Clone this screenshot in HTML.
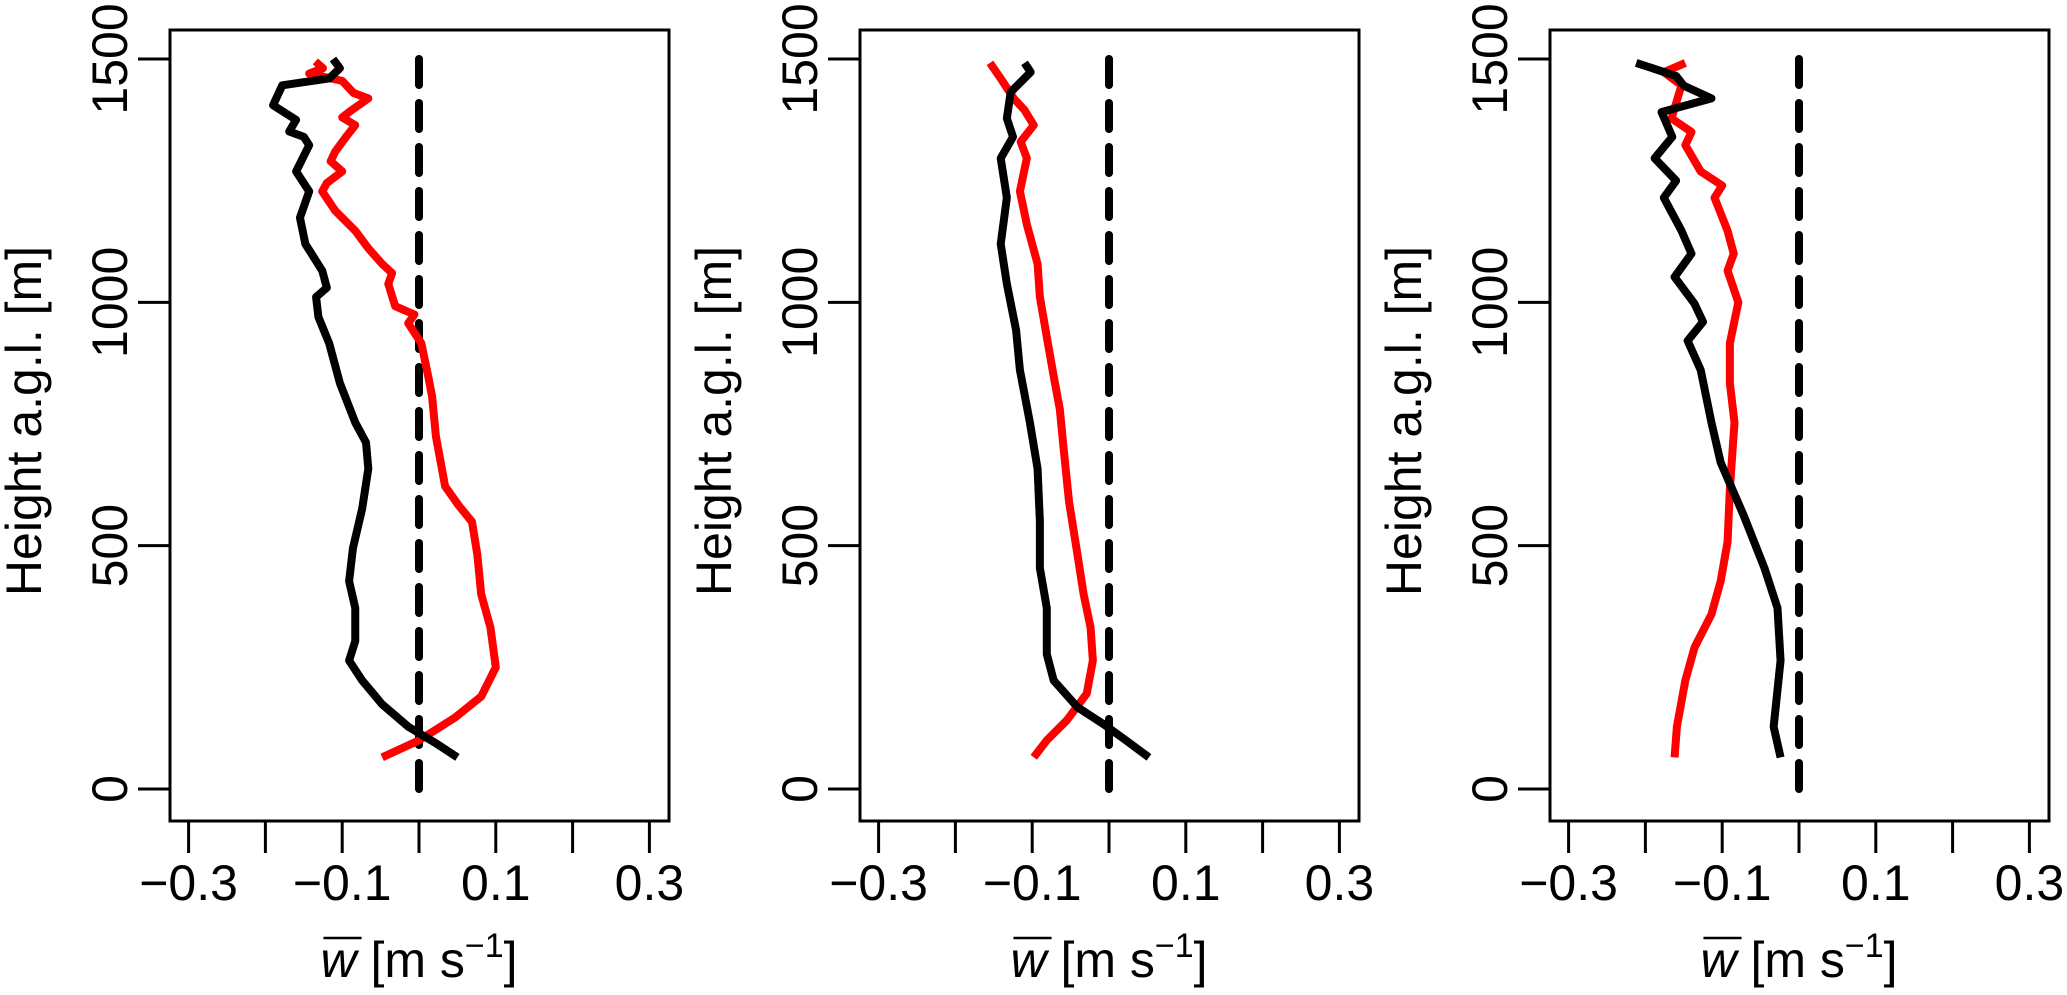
<!DOCTYPE html>
<html><head><meta charset="utf-8"><style>
body{margin:0;background:#fff}
svg text{font-family:"Liberation Sans",Arial,sans-serif;fill:#000}
</style></head><body>
<svg id="chart" width="2067" height="990" xmlns="http://www.w3.org/2000/svg"></svg>
<script>
const xTicks=[-0.3,-0.2,-0.1,0,0.1,0.2,0.3];
const xTickLabels=["\u22120.3","","\u22120.1","","0.1","","0.3"];
const yTicks=[0,500,1000,1500];
const p1RedW=[-0.048,0,0.047,0.081,0.1,0.093,0.081,0.076,0.069,0.052,0.034,0.022,0.017,0.012,0.003,-0.014,-0.006,-0.031,-0.040,-0.035,-0.048,-0.066,-0.083,-0.109,-0.126,-0.120,-0.100,-0.115,-0.109,-0.095,-0.083,-0.100,-0.091,-0.066,-0.085,-0.100,-0.143,-0.125,-0.135];
const p1RedH=[65,100,147,190,250,332,400,481,549,582,622,725,807,848,916,957,975,992,1038,1060,1079,1111,1147,1188,1228,1245,1269,1290,1310,1340,1364,1380,1391,1419,1430,1455,1470,1481,1495];
const p1BlkW=[0.05,0.021,-0.014,-0.048,-0.074,-0.091,-0.083,-0.083,-0.091,-0.086,-0.074,-0.066,-0.069,-0.083,-0.103,-0.117,-0.131,-0.134,-0.120,-0.126,-0.148,-0.155,-0.143,-0.160,-0.143,-0.150,-0.169,-0.160,-0.190,-0.178,-0.117,-0.103,-0.112];
const p1BlkH=[65,95,128,174,223,264,304,372,427,495,576,658,712,753,834,916,970,1011,1030,1065,1120,1174,1228,1269,1323,1340,1351,1375,1405,1446,1460,1481,1500];
const p2RedW=[-0.098,-0.081,-0.055,-0.029,-0.021,-0.024,-0.033,-0.041,-0.052,-0.059,-0.064,-0.072,-0.081,-0.090,-0.093,-0.107,-0.116,-0.107,-0.115,-0.098,-0.110,-0.124,-0.141,-0.155];
const p2RedH=[65,100,141,196,264,332,400,481,590,698,780,848,929,1011,1079,1160,1228,1296,1330,1364,1395,1419,1460,1492];
const p2BlkW=[0.052,0.022,-0.007,-0.041,-0.072,-0.081,-0.081,-0.090,-0.090,-0.093,-0.103,-0.116,-0.121,-0.133,-0.141,-0.133,-0.141,-0.125,-0.133,-0.128,-0.102,-0.110];
const p2BlkH=[65,100,133,168,223,277,372,454,549,658,753,861,943,1038,1120,1215,1296,1340,1378,1432,1473,1492];
const p3RedW=[-0.162,-0.159,-0.148,-0.136,-0.114,-0.102,-0.093,-0.090,-0.084,-0.090,-0.090,-0.079,-0.093,-0.085,-0.093,-0.110,-0.100,-0.128,-0.148,-0.140,-0.166,-0.153,-0.176,-0.148];
const p3RedH=[65,128,223,291,359,427,508,617,753,834,916,1000,1065,1100,1147,1215,1240,1269,1323,1350,1378,1446,1473,1492];
const p3BlkW=[-0.024,-0.033,-0.024,-0.028,-0.045,-0.072,-0.102,-0.114,-0.128,-0.145,-0.125,-0.136,-0.162,-0.140,-0.153,-0.176,-0.160,-0.188,-0.165,-0.179,-0.114,-0.150,-0.160,-0.212];
const p3BlkH=[65,128,264,372,454,562,671,753,861,921,960,997,1052,1100,1147,1215,1250,1296,1340,1391,1419,1445,1465,1492];
const panels=[[p1RedW,p1RedH,p1BlkW,p1BlkH],[p2RedW,p2RedH,p2BlkW,p2BlkH],[p3RedW,p3RedH,p3BlkW,p3BlkH]];
const NS="http://www.w3.org/2000/svg",svg=document.getElementById("chart");
function mk(t,a,p){const e=document.createElementNS(NS,t);for(const k in a)e.setAttribute(k,a[k]);(p||svg).appendChild(e);return e;}
panels.forEach((pd,i)=>{
  const off=i*690, L=170+off, R=669+off, T=30, B=821;
  const x=v=>419+off+v*768, y=h=>789-h*730/1500;
  const g=mk("g",{});
  
  
  const box=mk("rect",{x:L,y:T,width:R-L,height:B-T,fill:"none",stroke:"#000","stroke-width":3},g);
  
  
  xTicks.forEach((v,j)=>{
    const t=mk("line",{x1:x(v),x2:x(v),y1:B,y2:853,stroke:"#000","stroke-width":3},g);
    
    
    if(xTickLabels[j]){const tx=mk("text",{x:x(v),y:900,"font-size":50,"text-anchor":"middle"},g);tx.textContent=xTickLabels[j];
      
      }
  });
  yTicks.forEach(v=>{
    const t=mk("line",{x1:138+off,x2:L,y1:y(v),y2:y(v),stroke:"#000","stroke-width":3},g);
    
    
    const tx=mk("text",{x:0,y:0,"font-size":50,"text-anchor":"middle",transform:`translate(${127+off},${y(v)}) rotate(-90)`},g);
    tx.textContent=v;
    
    
  });
  const yt=mk("text",{x:0,y:0,"font-size":50,"text-anchor":"middle",transform:`translate(${41+off},${421}) rotate(-90)`},g);
  yt.textContent="Height a.g.l. [m]";
  
  
  const xt=mk("text",{x:419+off,y:977,"font-size":50,"text-anchor":"middle"},g);
  xt.innerHTML='<tspan font-style="italic">w</tspan> [m s<tspan dy="-20" font-size="34">\u22121</tspan><tspan dy="20">]</tspan>';
  
  
  let x0=419+off-125,x1=419+off-90;
  try{const a=xt.getStartPositionOfChar(0),b=xt.getEndPositionOfChar(0);x0=a.x+3;x1=b.x+5;}catch(e){}
  const ob=mk("line",{x1:x0,x2:x1,y1:938,y2:938,stroke:"#000","stroke-width":2.5},g);
  
  
  const d=mk("line",{x1:x(0),x2:x(0),y1:y(0),y2:y(1500),stroke:"#000","stroke-width":8,"stroke-dasharray":"26 18","stroke-linecap":"round"},g);
  
  
  [[pd[0],pd[1],"#ff0000","red-profile"],[pd[2],pd[3],"#000","black-profile"]].forEach(s=>{
    const pts=s[0].map((w,k)=>x(w)+","+y(s[1][k])).join(" ");
    const pl=mk("polyline",{points:pts,fill:"none",stroke:s[2],"stroke-width":8,"stroke-linejoin":"round"},g);
    
    
  });
});
</script>
</body></html>
